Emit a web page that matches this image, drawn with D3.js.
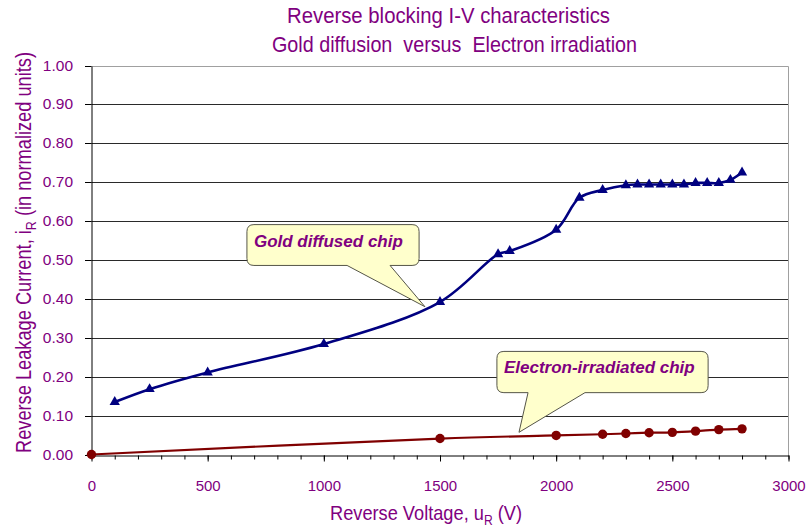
<!DOCTYPE html>
<html>
<head>
<meta charset="utf-8">
<script src="https://cdn.jsdelivr.net/npm/d3@7"></script>
<style>
  body { margin: 0; background: #fff; }
  #chart { width: 807px; height: 529px; }
</style>
</head>
<body>
<div id="chart"></div>
<script>
// Gold diffused chip (triangles)
const goldVoltage = [100, 250, 500, 1000, 1500, 1750, 1800, 2000, 2100, 2200, 2300,
    2350, 2400, 2450, 2500, 2550, 2600, 2650, 2700, 2750, 2800];
const goldCurrent = [0.135, 0.168, 0.211, 0.284, 0.392, 0.515, 0.523, 0.578, 0.660, 0.680, 0.692,
    0.694, 0.694, 0.694, 0.694, 0.694, 0.698, 0.698, 0.698, 0.706, 0.725];

// Electron-irradiated chip (circles)
const elecVoltage = [0, 1500, 2000, 2200, 2300, 2400, 2500, 2600, 2700, 2800];
const elecCurrent = [0.000, 0.041, 0.049, 0.052, 0.054, 0.056, 0.057, 0.060, 0.064, 0.066];

// Axis ticks
const xTickValues = [0, 500, 1000, 1500, 2000, 2500, 3000];
const xMinorTicks = d3.range(0, 3001, 100);
const yTickValues = [0, 0.1, 0.2, 0.3, 0.4, 0.5, 0.6, 0.7, 0.8, 0.9, 1.0];

// Callouts, in data units: box [x0, x1, yTop, yBottom], pointer base [x0, x1], tip [x, y]
const calloutLabels = ["Gold diffused chip", "Electron-irradiated chip"];
const calloutBoxes = [[669, 1410, 0.591, 0.486], [1745, 2654, 0.265, 0.159]];
const calloutBases = [[1100, 1285], [1879, 2124]];
const calloutTips = [[1435, 0.380], [1840, 0.057]];

const width = 807;
const height = 529;
const purple = "#800080";
const sans = "'Liberation Sans', Arial, sans-serif";

const x = d3.scaleLinear().domain([0, 3000]).range([91.5, 788.5]);
const y = d3.scaleLinear().domain([0, 1]).range([454.5, 65.5]);
const crisp = v => Math.round(y(v)) + 0.5;

const svg = d3.create("svg")
    .attr("width", width)
    .attr("height", height)
    .attr("viewBox", [0, 0, width, height])
    .style("font-family", sans);

// Horizontal gridlines
svg.append("g")
    .selectAll("line")
    .data(yTickValues.filter(v => v > 0 && v < 1))
    .join("line")
    .attr("x1", x(0))
    .attr("x2", x(3000))
    .attr("y1", d => crisp(d))
    .attr("y2", d => crisp(d))
    .attr("stroke", "#2a2a2a")
    .attr("stroke-width", 1);

// Plot area border (top and right)
svg.append("path")
    .attr("d", `M${x(0)},${crisp(1)}H${x(3000)}V${crisp(0)}`)
    .attr("fill", "none")
    .attr("stroke", "#a0a0a0");

// Y axis
const yAxis = svg.append("g")
    .attr("transform", `translate(${x(0)},0)`)
    .call(d3.axisLeft(y).tickValues(yTickValues).tickFormat(d3.format(".2f"))
        .tickSize(6.5).tickSizeOuter(0).tickPadding(12));
yAxis.selectAll(".tick").attr("transform", d => `translate(0,${crisp(d)})`);
yAxis.select(".domain").attr("d", `M0.5,${crisp(1)}V${crisp(0)}`).attr("stroke", "#000");
yAxis.selectAll(".tick line").attr("stroke", "#000");
yAxis.selectAll(".tick text")
    .attr("fill", purple)
    .style("font-size", "15.5px")
    .style("font-family", sans);

// X axis, minor ticks then major ticks with labels
svg.append("g")
    .attr("transform", `translate(0,${crisp(0)})`)
    .call(d3.axisBottom(x).tickValues(xMinorTicks).tickFormat("").tickSize(4).tickSizeOuter(0))
    .call(g => g.select(".domain").remove())
    .call(g => g.selectAll(".tick line").attr("stroke", "#000"));

const xAxis = svg.append("g")
    .attr("transform", `translate(0,${crisp(0)})`)
    .call(d3.axisBottom(x).tickValues(xTickValues).tickFormat(d3.format("d"))
        .tickSize(6).tickSizeOuter(0).tickPadding(19));
xAxis.select(".domain").attr("stroke", "#000");
xAxis.selectAll(".tick line").attr("stroke", "#000");
xAxis.selectAll(".tick text")
    .attr("fill", purple)
    .style("font-size", "15px")
    .style("font-family", sans);

// Series lines
const line = d3.line()
    .x(d => x(d[0]))
    .y(d => y(d[1]))
    .curve(d3.curveCatmullRom.alpha(0.5));

const gold = d3.zip(goldVoltage, goldCurrent);
const elec = d3.zip(elecVoltage, elecCurrent);

svg.append("path")
    .datum(elec)
    .attr("d", line)
    .attr("fill", "none")
    .attr("stroke", "#800000")
    .attr("stroke-width", 2.2);

svg.append("path")
    .datum(gold)
    .attr("d", line)
    .attr("fill", "none")
    .attr("stroke", "#000080")
    .attr("stroke-width", 2.6);

// Markers
svg.append("g")
    .selectAll("path")
    .data(gold)
    .join("path")
    .attr("transform", d => `translate(${x(d[0])},${y(d[1])})`)
    .attr("d", d3.symbol(d3.symbolTriangle, 46))
    .attr("fill", "#000080");

svg.append("g")
    .selectAll("circle")
    .data(elec)
    .join("circle")
    .attr("cx", d => x(d[0]))
    .attr("cy", d => y(d[1]))
    .attr("r", 4.7)
    .attr("fill", "#800000");

// Callouts
function calloutPath(i) {
    const [bx0, bx1, byt, byb] = calloutBoxes[i];
    const x0 = x(bx0), x1 = x(bx1), y0 = y(byt), y1 = y(byb);
    const p0 = x(calloutBases[i][0]), p1 = x(calloutBases[i][1]);
    const tx = x(calloutTips[i][0]), ty = y(calloutTips[i][1]);
    const r = 7;
    return `M${x0 + r},${y0}H${x1 - r}Q${x1},${y0} ${x1},${y0 + r}V${y1 - r}` +
        `Q${x1},${y1} ${x1 - r},${y1}H${p1}L${tx},${ty}L${p0},${y1}H${x0 + r}` +
        `Q${x0},${y1} ${x0},${y1 - r}V${y0 + r}Q${x0},${y0} ${x0 + r},${y0}Z`;
}

const callout = svg.append("g")
    .selectAll("g")
    .data(calloutLabels)
    .join("g");

callout.append("path")
    .attr("d", (d, i) => calloutPath(i))
    .attr("fill", "#ffffcc")
    .attr("stroke", "#555548")
    .attr("stroke-width", 1);

callout.append("text")
    .attr("x", (d, i) => x(calloutBoxes[i][0]) + 7)
    .attr("y", (d, i) => y(calloutBoxes[i][2]) + 22)
    .attr("fill", purple)
    .style("font-size", "17px")
    .style("font-weight", "bold")
    .style("font-style", "italic")
    .text(d => d);

// Title
svg.append("text")
    .attr("x", 448.5)
    .attr("y", 23)
    .attr("text-anchor", "middle")
    .attr("textLength", 323)
    .attr("lengthAdjust", "spacingAndGlyphs")
    .attr("fill", purple)
    .style("font-size", "22px")
    .text("Reverse blocking I-V characteristics");

svg.append("text")
    .attr("x", 454.5)
    .attr("y", 52)
    .attr("text-anchor", "middle")
    .attr("textLength", 365)
    .attr("lengthAdjust", "spacingAndGlyphs")
    .attr("fill", purple)
    .style("font-size", "22px")
    .style("white-space", "pre")
    .text("Gold diffusion  versus  Electron irradiation");

// Axis titles
const yTitle = svg.append("text")
    .attr("transform", "translate(31,252.5) rotate(-90)")
    .attr("text-anchor", "middle")
    .attr("textLength", 401)
    .attr("lengthAdjust", "spacingAndGlyphs")
    .attr("fill", purple)
    .style("font-size", "22px");
yTitle.append("tspan").text("Reverse Leakage Current, i");
yTitle.append("tspan").attr("baseline-shift", "-5").style("font-size", "15px").text("R");
yTitle.append("tspan").text(" (in normalized units)");

const xTitle = svg.append("text")
    .attr("x", 426)
    .attr("y", 520)
    .attr("text-anchor", "middle")
    .attr("textLength", 192)
    .attr("lengthAdjust", "spacingAndGlyphs")
    .attr("fill", purple)
    .style("font-size", "21px");
xTitle.append("tspan").text("Reverse Voltage, u");
xTitle.append("tspan").attr("baseline-shift", "-5").style("font-size", "14px").text("R");
xTitle.append("tspan").text(" (V)");

document.getElementById("chart").appendChild(svg.node());
</script>
</body>
</html>
